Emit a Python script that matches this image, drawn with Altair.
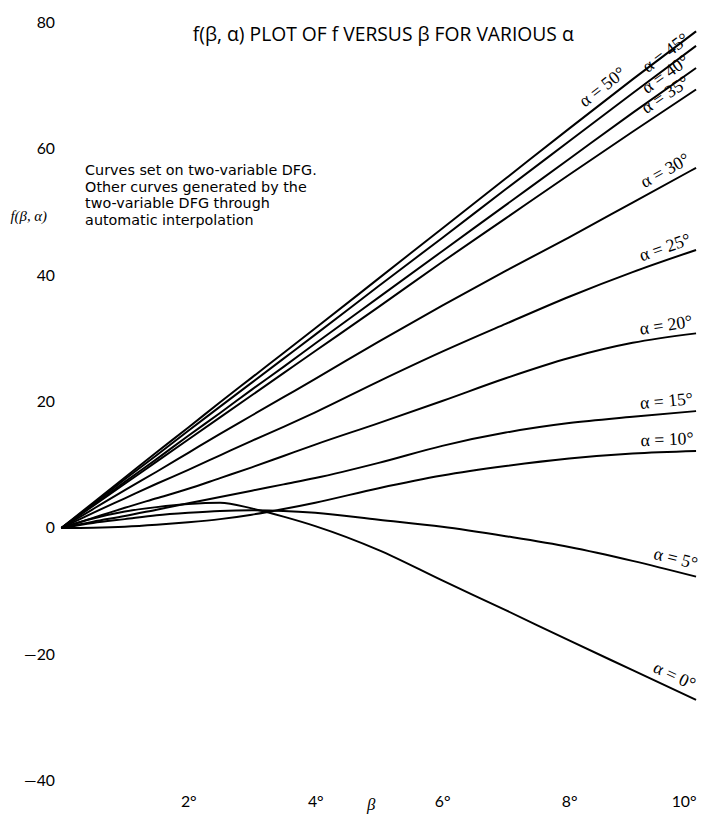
import math
import altair as alt
import numpy as np
import pandas as pd

# ---------------- data ----------------
beta = [0, 0.5, 1, 1.5, 2, 2.5, 3, 3.5, 4, 5, 6, 7, 8, 9, 10]

f_a50 = [0, 4.0, 8.0, 12.0, 15.9, 19.9, 23.8, 27.7, 31.6, 39.5, 47.4, 55.3, 63.2, 71.0, 78.6]
f_a45 = [0, 3.8, 7.7, 11.5, 15.4, 19.2, 23.0, 26.8, 30.6, 38.3, 45.9, 53.6, 61.2, 68.8, 76.3]
f_a40 = [0, 3.6, 7.3, 10.9, 14.6, 18.2, 21.9, 25.5, 29.2, 36.5, 43.8, 51.1, 58.4, 65.7, 72.8]
f_a35 = [0, 3.5, 7.0, 10.5, 14.0, 17.5, 21.0, 24.5, 28.0, 35.0, 42.1, 49.0, 55.9, 62.7, 69.4]
f_a30 = [0, 3.0, 6.0, 8.9, 11.9, 14.9, 17.8, 20.7, 23.6, 29.5, 35.2, 40.7, 46.0, 51.5, 57.0]
f_a25 = [0, 2.4, 4.7, 7.0, 9.2, 11.5, 13.8, 16.0, 18.3, 23.2, 27.9, 32.3, 36.6, 40.5, 44.0]
f_a20 = [0, 1.6, 3.2, 4.7, 6.2, 7.9, 9.6, 11.4, 13.2, 16.6, 20.1, 23.7, 26.9, 29.3, 30.8]
f_a15 = [0, 1.0, 1.9, 2.9, 3.9, 4.9, 5.9, 6.9, 7.9, 10.3, 13.0, 15.1, 16.6, 17.6, 18.5]
f_a10 = [0, 0.05, 0.2, 0.5, 0.9, 1.4, 2.1, 3.0, 4.0, 6.3, 8.3, 9.8, 11.0, 11.8, 12.2]
f_a5 = [0, 0.8, 1.4, 2.0, 2.4, 2.7, 2.8, 2.7, 2.4, 1.3, 0.2, -1.3, -3.0, -5.2, -7.7]
f_a0 = [0, 1.5, 2.6, 3.3, 3.8, 4.0, 3.1, 1.8, 0.3, -3.5, -8.3, -13.0, -17.8, -22.5, -27.2]

alphas = [0, 5, 10, 15, 20, 25, 30, 35, 40, 45, 50]
series = [f_a0, f_a5, f_a10, f_a15, f_a20, f_a25, f_a30, f_a35, f_a40, f_a45, f_a50]
# beta at which each curve label ends (its right end)
label_end_beta = [9.92, 10, 10, 10, 10, 10, 10, 10, 10, 10, 9.0]

x_ticks = [2, 4, 6, 8, 10]
y_ticks = [-40, -20, 0, 20, 40, 60, 80]

title_text = "f(β, α) PLOT OF f VERSUS β FOR VARIOUS α"
note_text = ("Curves set on two-variable DFG.\nOther curves generated by the\n"
             "two-variable DFG through\nautomatic interpolation")

# ---------------- layout ----------------
W, H = 642, 767
X_DOM, Y_DOM = [0, 10], [-40, 80]
px_x = W / (X_DOM[1] - X_DOM[0])
px_y = H / (Y_DOM[1] - Y_DOM[0])

rows = []
for a, vals in zip(alphas, series):
    for b, v in zip(beta, vals):
        rows.append({"beta": b, "f": v, "alpha": a})
df = pd.DataFrame(rows)

lab_rows = []
for a, vals, lb in zip(alphas, series, label_end_beta):
    fv = float(np.interp(lb, beta, vals))
    i = int(np.searchsorted(beta, lb))
    i = max(1, min(i, len(beta) - 1))
    slope = (vals[i] - vals[i - 1]) / (beta[i] - beta[i - 1])
    ang = -math.degrees(math.atan(slope * px_y / px_x))
    lab_rows.append({"beta": lb, "f": fv, "label": f"α = {a}°", "angle": ang % 360})
ldf = pd.DataFrame(lab_rows)

xs = alt.Scale(domain=X_DOM, nice=False, zero=False)
ys = alt.Scale(domain=Y_DOM, nice=False, zero=False)

x_axis = alt.Axis(
    values=x_ticks, grid=False, domain=False, ticks=False, labelPadding=13,
    labelExpr="datum.value + '°'", labelFont="Lato", labelFontSize=16,
    labelColor="black", labelFlush=True, title="β", titleFont="Liberation Serif",
    titleFontStyle="italic", titleFontWeight="normal", titleFontSize=17,
    titleX=313, titleY=24, titleBaseline="middle", titleColor="black",
)
y_axis = alt.Axis(
    values=y_ticks, grid=False, domain=False, ticks=False, labelPadding=7,
    labelExpr="datum.value < 0 ? '—' + abs(datum.value) : datum.label",
    labelFont="Lato", labelFontSize=16, labelColor="black",
    title="f(β, α)", titleAngle=0, titleAlign="left", titleBaseline="middle",
    titleX=-52, titleY=195, titleFont="Liberation Serif", titleFontStyle="italic",
    titleFontWeight="normal", titleFontSize=15, titleColor="black",
)

lines = alt.Chart(df).mark_line(color="black", strokeWidth=2, interpolate="monotone").encode(
    x=alt.X("beta:Q", scale=xs, axis=x_axis),
    y=alt.Y("f:Q", scale=ys, axis=y_axis),
    detail="alpha:N",
)

labels = alt.Chart(ldf).mark_text(
    font="Liberation Serif", fontSize=18, color="black", align="right",
    baseline="bottom", dy=-3, dx=-2,
).encode(
    x=alt.X("beta:Q", scale=xs),
    y=alt.Y("f:Q", scale=ys),
    text="label:N",
    angle=alt.Angle("angle:Q", scale=None),
)

title = alt.Chart(pd.DataFrame({"t": [title_text]})).mark_text(
    font="Open Sans", fontSize=19.5, color="black", align="left", baseline="middle",
).encode(x=alt.value(133), y=alt.value(13), text="t:N")

note = alt.Chart(pd.DataFrame({"t": [note_text]})).mark_text(
    font="DejaVu Sans", fontSize=14.5, color="black", align="left", baseline="middle",
    lineBreak="\n", lineHeight=17,
).encode(x=alt.value(24), y=alt.value(150), text="t:N")

chart = alt.layer(lines, labels, title, note).properties(
    width=W, height=H,
    autosize=alt.AutoSizeParams(type="none"),
    padding={"left": 54, "top": 10, "right": 5, "bottom": 29},
    background="white",
).configure_view(stroke=None)

chart.save("out.html", embed_options={"renderer": "svg", "actions": False})
